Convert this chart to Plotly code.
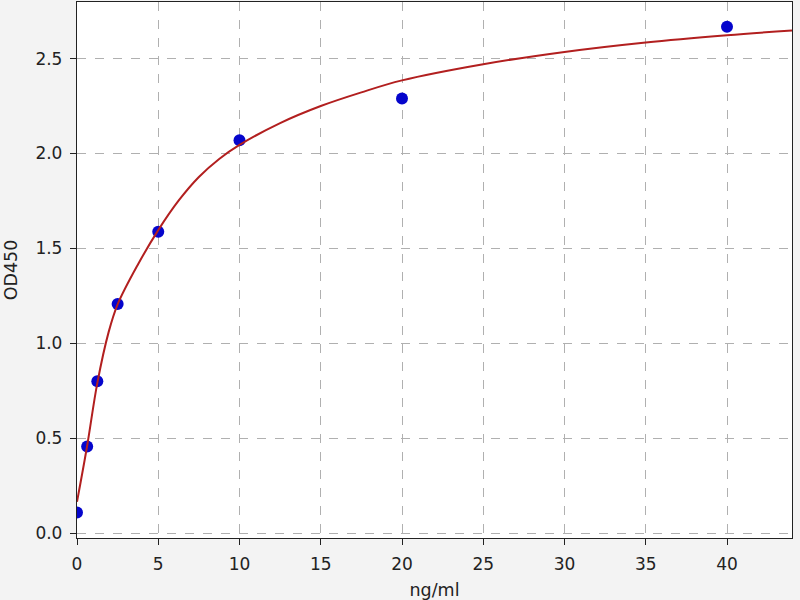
import plotly.graph_objects as go

# Точки стандартов (концентрация, OD450)
conc = [0, 0.625, 1.25, 2.5, 5, 10, 20, 40]
od450 = [0.108, 0.456, 0.80, 1.207, 1.587, 2.07, 2.29, 2.667]

# Кривая аппроксимации
curve_x = [0, 0.625, 1.25, 1.95, 2.5, 3.75, 5, 6.25, 7.5, 8.75, 10,
           12.5, 15, 17.5, 20, 25, 30, 35, 40, 44]
curve_y = [0.165, 0.46, 0.79, 1.06, 1.205, 1.415, 1.596, 1.751, 1.876, 1.971, 2.045,
           2.16, 2.25, 2.322, 2.385, 2.47, 2.535, 2.585, 2.623, 2.648]

x_ticks = [0, 5, 10, 15, 20, 25, 30, 35, 40]
y_ticks = [0.0, 0.5, 1.0, 1.5, 2.0, 2.5]

fig = go.Figure()

fig.add_trace(go.Scatter(
    x=conc,
    y=od450,
    mode="markers",
    marker=dict(size=12, color="#0505cc"),
    showlegend=False
))

# Линия поверх точек, как в оригинале
fig.add_trace(go.Scatter(
    x=curve_x,
    y=curve_y,
    mode="lines",
    line=dict(width=2, color="#b21f1f", shape="spline", smoothing=1.0),
    showlegend=False
))

axis_style = dict(
    showline=True,
    mirror=True,
    linecolor="#222222",
    linewidth=1.3,
    ticks="outside",
    ticklen=6,
    tickcolor="#222222",
    ticklabelstandoff=4,
    showgrid=True,
    gridcolor="#b0b0b0",
    griddash="dash",
    gridwidth=1,
    zeroline=False,
    tickfont=dict(family="DejaVu Sans", size=17, color="#222222"),
)
title_font = dict(family="DejaVu Sans", size=17.5, color="#222222")

fig.update_xaxes(
    range=[0, 44],
    tickvals=x_ticks,
    ticktext=[str(v) for v in x_ticks],
    title=dict(text="ng/ml", font=title_font, standoff=12),
    **axis_style
)
fig.update_yaxes(
    range=[-0.026, 2.798],
    tickvals=y_ticks,
    ticktext=[f"{v:.1f}" for v in y_ticks],
    title=dict(text="OD450", font=title_font, standoff=13),
    **axis_style
)

fig.update_layout(
    width=800,
    height=600,
    margin=dict(l=77, r=8, t=2, b=62),
    paper_bgcolor="#f3f3f3",
    plot_bgcolor="white",
    font=dict(family="DejaVu Sans"),
)

fig.write_html(
    "out.html",
    config={"displayModeBar": False},
    post_script="document.body.style.margin='0px';",
)
